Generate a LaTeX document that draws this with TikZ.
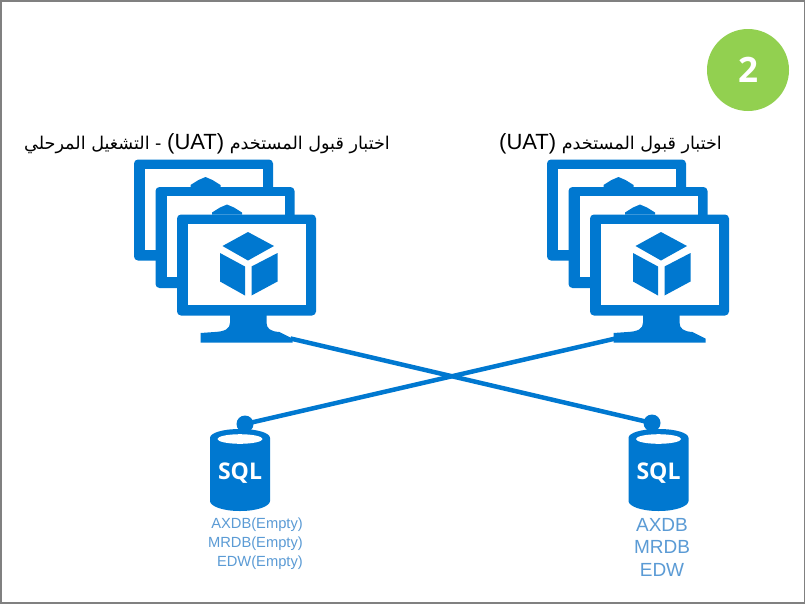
\documentclass[tikz,border=0pt]{standalone}
\usepackage{fontspec}
\setmainfont{Liberation Sans}
\newfontfamily\arabicfont[Script=Arabic]{DejaVu Sans}
\newfontfamily\badgefont{Open Sans}
\TeXXeTstate=1
\definecolor{azure}{HTML}{0078D0}
\definecolor{badge}{HTML}{92D050}
\definecolor{dblabel}{HTML}{5B9BD5}
\definecolor{frameline}{HTML}{808080}
\tikzset{
	screen/.pic={
		\fill[azure,rounded corners=4pt] (-69.5,-50) rectangle (69.5,51);
		\fill[white] (-58.5,-41) rectangle (59.5,40);
	},
	bump/.pic={
		\fill[azure] (-15,5) -- (-15,3) -- (-7,-2) -- (0,-5) -- (7,-2) -- (15,3) -- (15,5) -- cycle;
	},
	monitor/.pic={
		\pic at (-43,-55) {screen};
		\pic at (-41,-82.5) {bump};
		\pic at (-21.5,-27.5) {screen};
		\pic at (-19.5,-55) {bump};
		\pic at (0,0) {screen};
		% stand
		\fill[azure] (-16.5,50) -- (20,50) -- (20,58) .. controls (20,64) and (24,67) .. (33,67.5) -- (46,74) -- (46,78) -- (-46,78) -- (-46,68.5) -- (-32,67.5) .. controls (-21,67) and (-16.5,64) .. (-16.5,58) -- cycle;
		% cube
		\fill[azure] (1.5,-32.5) -- (27.5,-18.5) -- (1.5,-4) -- (-24,-18.5) -- cycle;
		\fill[azure] (-26.5,-11.5) -- (-1.5,2) -- (-1.5,31) -- (-26.5,17) -- cycle;
		\fill[azure] (5,2) -- (31,-11.5) -- (31,17) -- (5,31) -- cycle;
		\coordinate (-left) at (-44,74);
		\coordinate (-right) at (44,74);
	},
	sqldb/.pic={
		\fill[azure] (-30,-32) -- (-30,31) .. controls (-30,36) and (-18,41) .. (0,41) .. controls (18,41) and (30,36) .. (30,31) -- (30,-32) .. controls (30,-37) and (18,-41) .. (0,-41) .. controls (-18,-41) and (-30,-37) .. (-30,-32) -- cycle;
		\fill[white] (0,-31) ellipse (22.5 and 4.8);
		\node[font=\badgefont\bfseries\fontsize{23}{23}\selectfont,text=white,inner sep=0pt] (-name) at (0,3) {SQL};
	},
	title/.style={anchor=base east,inner sep=0pt,font=\arabicfont\fontsize{17.6}{17.6}\selectfont},
	knob/.style={circle,fill=azure,minimum size=17pt,inner sep=0pt},
	link/.style={draw=azure,line width=4.5pt}
}
\newcommand{\uat}{\beginL{\rmfamily\fontsize{22}{22}\selectfont(UAT)}\endL}
\begin{document}
\begin{tikzpicture}[x=1pt,y=-1pt]
	\useasboundingbox (0,0) rectangle (805,603);
	\fill[white] (0,0) rectangle (805,603);
	\draw[frameline,line width=2pt] (0.5,0.5) rectangle (804.5,602.5);

	\node[circle,fill=badge,minimum size=82pt,inner sep=0pt] (badge) at (748,70) {};
	\node[font=\badgefont\bfseries\fontsize{35}{35}\selectfont,text=white,inner sep=0pt] (badgenum) at (748,70) {2};

	\node[title] (titleleft) at (390,149) {\beginR اختبار قبول المستخدم \uat{} - التشغيل المرحلي\endR};
	\node[title] (titleright) at (722,149) {\beginR اختبار قبول المستخدم \uat\endR};

	\pic (phased) at (246.5,264.5) {monitor};
	\pic (plain) at (659.5,264.5) {monitor};

	\pic (dbleft) at (240,470) {sqldb};
	\pic (dbright) at (658.5,470) {sqldb};
	\node[knob] (knobleft) at (245,424) {};
	\node[knob] (knobright) at (652,423) {};

	\draw[link] (phased-right) -- (knobright.center);
	\draw[link] (plain-left) -- (knobleft.center);

	\node[anchor=north east,align=right,inner sep=0pt,text=dblabel,font=\fontsize{14.7}{19}\selectfont] (labelleft) at (303,518) {AXDB(Empty)\\MRDB(Empty)\\EDW(Empty)};
	\node[anchor=north,align=center,inner sep=0pt,text=dblabel,font=\fontsize{19}{22.5}\selectfont] (labelright) at (662,518) {AXDB\\MRDB\\EDW};
\end{tikzpicture}
\end{document}
